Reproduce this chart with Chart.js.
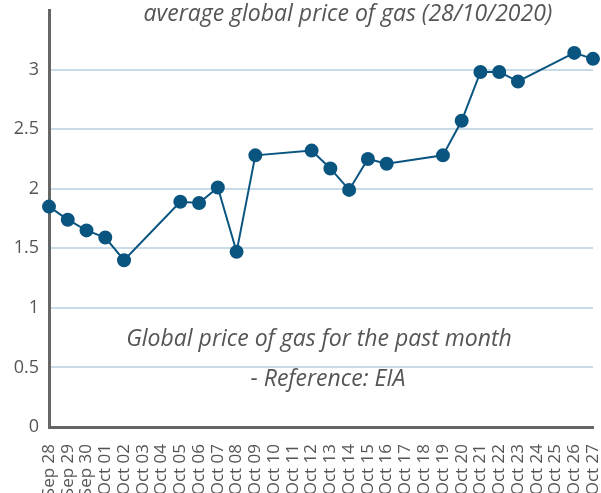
<!DOCTYPE html>
<html>
<head>
<meta charset="utf-8">
<script src="https://cdn.jsdelivr.net/npm/chart.js@4"></script>
<style>
  html, body { margin: 0; padding: 0; background: #fff; }
  #wrap { width: 601px; height: 493px; }
</style>
</head>
<body>
<div id="wrap"><canvas id="gasChart" width="601" height="493"></canvas></div>
<script>
// dates shown on the x axis (one per day, some days have no price)
const days = ['Sep 28', 'Sep 29', 'Sep 30', 'Oct 01', 'Oct 02', 'Oct 03', 'Oct 04', 'Oct 05',
  'Oct 06', 'Oct 07', 'Oct 08', 'Oct 09', 'Oct 10', 'Oct 11', 'Oct 12', 'Oct 13', 'Oct 14',
  'Oct 15', 'Oct 16', 'Oct 17', 'Oct 18', 'Oct 19', 'Oct 20', 'Oct 21', 'Oct 22', 'Oct 23',
  'Oct 24', 'Oct 25', 'Oct 26', 'Oct 27'];

// average global price, null = no reading that day (weekends)
const prices = [1.85, 1.74, 1.65, 1.59, 1.40, null, null, 1.89,
  1.88, 2.01, 1.47, 2.28, null, null, 2.32, 2.17, 1.99,
  2.25, 2.21, null, null, 2.28, 2.57, 2.98, 2.98, 2.90,
  null, null, 3.14, 3.09];

const yTickStep = 0.5;
const yMax = 3.5;

const titleText = 'average global price of gas (28/10/2020)';
const noteLines = ['Global price of gas for the past month', '- Reference: EIA'];

const FONT = "'Open Sans', sans-serif";
const TEXT_GREY = '#555';

// draws the title and the note on top of the plot area
const textPlugin = {
  id: 'textPlugin',
  afterDraw(chart) {
    const ctx = chart.ctx;
    ctx.save();
    ctx.fillStyle = TEXT_GREY;
    ctx.textAlign = 'center';
    ctx.textBaseline = 'middle';
    ctx.font = 'italic 23px ' + FONT;
    ctx.fillText(titleText, 348, 14);
    ctx.fillText(noteLines[0], 319, 339);
    ctx.fillText(noteLines[1], 328, 379);
    ctx.restore();
  }
};

new Chart(document.getElementById('gasChart'), {
  type: 'line',
  data: {
    labels: days,
    datasets: [{
      label: 'gas price',
      data: prices,
      spanGaps: true,
      borderColor: '#0a5580',
      backgroundColor: '#0a5580',
      borderWidth: 2,
      pointRadius: 6,
      pointHoverRadius: 6,
      tension: 0
    }]
  },
  options: {
    responsive: false,
    animation: false,
    devicePixelRatio: 1,
    layout: { padding: { top: 10, right: 4, left: 0, bottom: 0 } },
    plugins: {
      legend: { display: false },
      title: { display: false },
      tooltip: { enabled: false }
    },
    scales: {
      x: {
        offset: false,
        grid: { display: false },
        border: { display: true, color: '#666', width: 3 },
        afterFit(scale) {
          // labels run past the bottom edge, as in the original
          scale.height = 66;
          scale.paddingLeft = 0;
          scale.paddingRight = 0;
        },
        ticks: {
          color: TEXT_GREY,
          font: { family: FONT, size: 17 },
          maxRotation: 90,
          minRotation: 90,
          autoSkip: false,
          padding: 9
        }
      },
      y: {
        min: 0,
        max: yMax,
        afterBuildTicks(scale) {
          // top of the range carries no label / grid line
          scale.ticks = scale.ticks.filter(t => t.value < yMax);
        },
        afterFit(scale) {
          scale.width = 49;
          scale.paddingTop = 0;
          scale.paddingBottom = 0;
        },
        grid: { color: '#c8dbe6', lineWidth: 2, drawTicks: false },
        border: { display: true, color: '#666', width: 3 },
        ticks: {
          stepSize: yTickStep,
          color: TEXT_GREY,
          font: { family: FONT, size: 18 },
          padding: 10,
          callback: v => String(Number(v.toFixed(1)))
        }
      }
    }
  },
  plugins: [textPlugin]
});
</script>
</body>
</html>
